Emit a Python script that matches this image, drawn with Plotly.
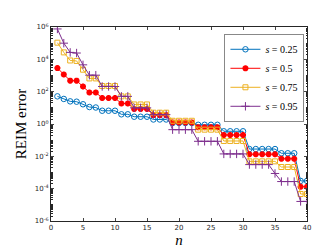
import plotly.graph_objects as go

n = list(range(1, 41))

# log10 of REIM error
log_s025 = [1.71, 1.55, 1.40, 1.38, 1.22, 1.05, 1.02, 0.82, 0.82, 0.82,
            0.60, 0.60, 0.45, 0.45, 0.45, 0.28, 0.28, 0.28, 0.06, 0.06,
            0.06, 0.06, -0.05, -0.05, -0.05, -0.05, -0.45, -0.45, -0.45, -0.45,
            -1.55, -1.55, -1.55, -1.55, -1.55, -1.81, -1.81, -1.81, -3.52, -3.52]
log_s05 = [3.46, 3.06, 2.68, 2.68, 2.32, 1.95, 1.95, 1.61, 1.61, 1.61,
           1.27, 1.27, 0.93, 0.93, 0.93, 0.55, 0.55, 0.55, 0.10, 0.10,
           0.10, 0.10, -0.20, -0.20, -0.20, -0.20, -0.68, -0.68, -0.68, -0.68,
           -1.87, -1.87, -1.87, -1.87, -1.87, -2.15, -2.15, -2.15, -3.88, -3.88]
log_s075 = [5.03, 4.43, 3.93, 3.90, 3.36, 2.82, 2.82, 2.35, 2.35, 2.35,
            1.71, 1.71, 1.21, 1.21, 1.21, 0.70, 0.70, 0.70, 0.20, 0.20,
            0.20, 0.20, -0.35, -0.35, -0.35, -0.35, -1.05, -1.05, -1.05, -1.05,
            -2.31, -2.31, -2.31, -2.31, -2.31, -2.66, -2.66, -2.66, -4.33, -4.33]
log_s095 = [5.88, 5.00, 4.43, 4.39, 3.66, 3.02, 3.02, 2.32, 2.32, 2.32,
            1.71, 1.71, 1.00, 1.00, 1.00, 0.58, 0.58, 0.58, -0.35, -0.35,
            -0.35, -0.35, -1.07, -1.07, -1.07, -1.07, -1.85, -1.85, -1.85, -1.85,
            -2.51, -2.51, -2.51, -2.51, -3.06, -3.56, -3.56, -3.56, -4.79, -4.79]

series_names = ["<i>s</i> = 0.25", "<i>s</i> = 0.5", "<i>s</i> = 0.75", "<i>s</i> = 0.95"]
x_ticks = [0, 5, 10, 15, 20, 25, 30, 35, 40]
y_exps = [-6, -4, -2, 0, 2, 4, 6]

styles = [
    dict(color="#0072BD", symbol="circle-open", size=5.5, lw=1.0),
    dict(color="#FF0000", symbol="asterisk-open", size=5, lw=2.0),
    dict(color="#EDB120", symbol="square-open", size=5, lw=1.0),
    dict(color="#7E2F8E", symbol="cross-thin-open", size=6, lw=1.0),
]

fig = go.Figure()
for name, vals, st in zip(series_names, [log_s025, log_s05, log_s075, log_s095], styles):
    fig.add_trace(go.Scatter(
        x=n, y=[10 ** v for v in vals], name=name, mode="lines+markers",
        line=dict(color=st["color"], width=1),
        marker=dict(symbol=st["symbol"], size=st["size"], color=st["color"],
                    line=dict(color=st["color"], width=st["lw"])),
    ))

axcol = "#262626"
minor_vals = [k * 10 ** e for e in range(-6, 6) for k in range(1, 10)]

fig.update_layout(
    width=332, height=249,
    margin=dict(l=43, r=33, t=19, b=31),
    paper_bgcolor="white", plot_bgcolor="white",
    font=dict(family="DejaVu Sans", size=7, color=axcol),
    showlegend=True,
    legend=dict(
        x=0.99, y=0.965, xanchor="right", yanchor="top",
        bgcolor="white", bordercolor="#888888", borderwidth=1,
        font=dict(family="Liberation Serif", size=10, color="black"),
        tracegroupgap=0, itemwidth=30,
    ),
    xaxis=dict(
        range=[0, 40], tickvals=x_ticks, ticks="inside", ticklen=3,
        showline=True, linecolor=axcol, linewidth=1, mirror="ticks",
        showgrid=False, zeroline=False,
        tickfont=dict(size=7, color=axcol),
        title=dict(text="<i>n</i>", font=dict(family="Liberation Serif", size=15, color="black"), standoff=2),
    ),
    yaxis=dict(
        type="log", range=[-6, 6],
        tickvals=[10 ** e for e in y_exps],
        ticktext=["10<sup>%d</sup>" % e for e in y_exps],
        ticks="inside", ticklen=3,
        showline=True, linecolor=axcol, linewidth=1, mirror="ticks",
        showgrid=False, zeroline=False,
        tickfont=dict(size=7, color=axcol),
        minor=dict(tickvals=minor_vals, ticks="inside", ticklen=1.5, tickcolor=axcol, showgrid=False),
        title=dict(text="REIM error", font=dict(family="Liberation Serif", size=15, color="black"), standoff=4),
    ),
)

fig.write_html("out.html")
